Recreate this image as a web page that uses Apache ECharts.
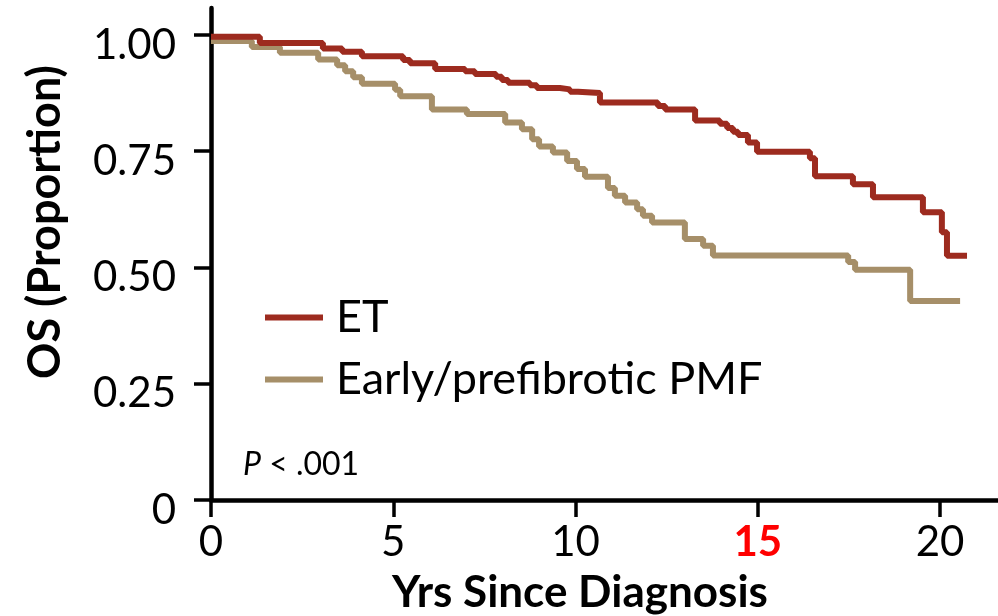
<!DOCTYPE html>
<html>
<head>
<meta charset="utf-8">
<script src="https://cdn.jsdelivr.net/npm/echarts@6/dist/echarts.min.js"></script>
<style>
  html, body { margin: 0; padding: 0; background: #ffffff; }
  #chart { width: 998px; height: 616px; }
</style>
</head>
<body>
<div id="chart"></div>
<script>
// Kaplan-Meier overall survival, ET vs early/prefibrotic PMF
const seriesNames = ['ET', 'Early/prefibrotic PMF'];

const etYears = [0, 1.34, 3.07, 3.60, 4.14, 5.27, 5.46, 6.15, 6.97, 7.24, 7.82, 7.98, 8.15, 8.75, 8.94,
  9.57, 9.85, 10.07, 10.67, 12.26, 12.46, 13.28, 13.96, 14.16, 14.32, 14.46, 14.73, 14.98,
  16.43, 16.57, 17.61, 18.16, 19.53, 20.05, 20.19, 20.74];
const etOS = [0.996, 0.983, 0.971, 0.964, 0.954, 0.946, 0.939, 0.927, 0.922, 0.916, 0.910, 0.903, 0.897, 0.892, 0.886,
  0.883, 0.878, 0.875, 0.855, 0.847, 0.840, 0.816, 0.809, 0.800, 0.792, 0.785, 0.769, 0.749,
  0.735, 0.696, 0.679, 0.651, 0.619, 0.576, 0.525, 0.525];

const pmfYears = [0, 1.12, 1.89, 2.94, 3.46, 3.68, 3.90, 4.14, 5.05, 5.19, 6.06, 7.02, 8.07, 8.53, 8.81,
  9.00, 9.38, 9.77, 10.04, 10.26, 10.89, 11.08, 11.36, 11.69, 11.85, 12.10, 13.00, 13.50, 13.77,
  17.48, 17.67, 19.18, 20.55];
const pmfOS = [0.987, 0.974, 0.962, 0.947, 0.935, 0.922, 0.909, 0.895, 0.882, 0.868, 0.840, 0.830, 0.812, 0.797, 0.776,
  0.760, 0.747, 0.729, 0.712, 0.695, 0.671, 0.654, 0.640, 0.625, 0.611, 0.597, 0.561, 0.547, 0.526,
  0.512, 0.495, 0.428, 0.428];

const xTicks = [0, 5, 10, 15, 20];
const highlightedYear = 15;
const yTicks = [0, 0.25, 0.5, 0.75, 1];

const FONT = 'Lato';
const RED = '#9d2b1f';
const TAN = '#a68f69';

function pairs(xs, ys) { return xs.map((x, i) => [x, ys[i]]); }

const chart = echarts.init(document.getElementById('chart'), null, { renderer: 'canvas' });

chart.setOption({
  animation: false,
  backgroundColor: '#ffffff',
  grid: { left: 211, right: 0, top: 8, bottom: 116, containLabel: false },
  xAxis: {
    type: 'value',
    min: 0,
    max: 21.59,
    splitLine: { show: false },
    axisLine: { show: true, onZero: false, lineStyle: { color: '#000', width: 4.5 } },
    axisTick: { show: true, length: 17, customValues: xTicks, lineStyle: { color: '#000', width: 3.5 } },
    axisLabel: {
      customValues: xTicks,
      margin: 21,
      fontFamily: FONT,
      fontSize: 42,
      color: '#000',
      formatter: v => v === highlightedYear ? '{hi|' + v + '}' : String(v),
      rich: { hi: { color: '#ff0000', fontWeight: 'bold', fontFamily: FONT, fontSize: 42 } }
    }
  },
  yAxis: {
    type: 'value',
    min: 0,
    max: 1.058,
    splitLine: { show: false },
    axisLine: { show: true, lineStyle: { color: '#000', width: 4.5 } },
    axisTick: { show: true, length: 17, customValues: yTicks, lineStyle: { color: '#000', width: 3.5 } },
    axisLabel: {
      customValues: yTicks,
      margin: 35,
      fontFamily: FONT,
      fontSize: 42,
      color: '#000',
      verticalAlign: 'top',
      lineHeight: 20,
      formatter: v => v === 0 ? '0' : v.toFixed(2)
    }
  },
  legend: {
    data: seriesNames,
    orient: 'vertical',
    left: 260,
    top: 290,
    itemWidth: 58,
    itemHeight: 6,
    itemGap: 17,
    icon: 'rect',
    textStyle: { fontFamily: FONT, fontSize: 45, color: '#000', lineHeight: 45, padding: [0, 0, 0, 8] }
  },
  graphic: [
    {
      type: 'text',
      x: 45, y: 222,
      rotation: Math.PI / 2,
      style: { text: 'OS (Proportion)', font: 'bold 45px Lato', fill: '#000', align: 'center', verticalAlign: 'middle' }
    },
    {
      type: 'text',
      x: 580, y: 593,
      style: { text: 'Yrs Since Diagnosis', font: 'bold 44px Lato', fill: '#000', align: 'center', verticalAlign: 'middle' }
    },
    {
      type: 'text',
      x: 243, y: 465,
      style: {
        text: '{i|P} < .001',
        font: '32px Lato',
        fill: '#000',
        align: 'left',
        verticalAlign: 'middle',
        rich: { i: { fontStyle: 'italic', fontFamily: FONT, fontSize: 32, fill: '#000' } }
      }
    }
  ],
  series: [
    {
      name: seriesNames[1],
      type: 'line',
      step: 'end',
      showSymbol: false,
      data: pairs(pmfYears, pmfOS),
      itemStyle: { color: TAN },
      lineStyle: { color: TAN, width: 6 },
      z: 2
    },
    {
      name: seriesNames[0],
      type: 'line',
      step: 'end',
      showSymbol: false,
      data: pairs(etYears, etOS),
      itemStyle: { color: RED },
      lineStyle: { color: RED, width: 6 },
      z: 3
    }
  ]
});
</script>
</body>
</html>
